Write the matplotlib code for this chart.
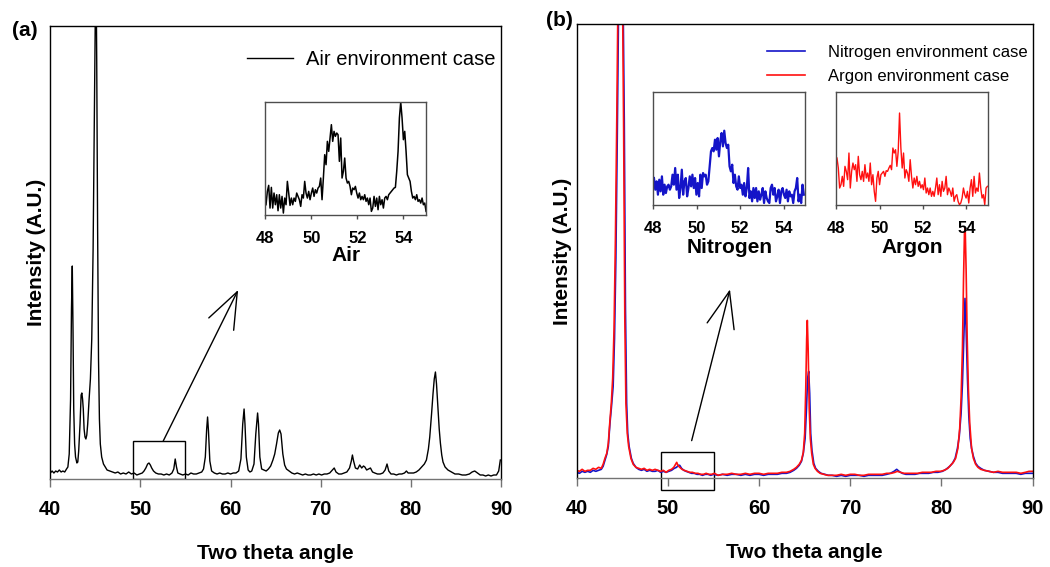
import numpy as np
import matplotlib
matplotlib.use("Agg")
import matplotlib.pyplot as plt
from matplotlib.patches import Rectangle

matplotlib.rc('font', family='Liberation Sans', size=14)

# ---- main pattern, air (2theta, intensity a.u.) ----
air_pts = [
    (40.0, 6), (40.2, 8), (40.4, 6), (40.6, 8), (40.8, 7), (41.0, 9), (41.2, 7), (41.4, 8),
    (41.6, 7), (41.8, 10), (41.95, 12), (42.1, 25), (42.25, 80), (42.35, 170), (42.44, 213),
    (42.52, 150), (42.6, 70), (42.7, 35), (42.8, 22), (42.95, 16), (43.05, 17), (43.15, 28),
    (43.3, 55), (43.42, 84), (43.5, 86), (43.58, 80), (43.66, 70), (43.75, 50), (43.85, 42),
    (43.95, 40), (44.05, 44), (44.15, 55), (44.3, 79), (44.45, 100), (44.6, 140), (44.75, 230),
    (44.9, 380), (45.0, 470), (45.07, 520), (45.15, 420), (45.25, 250), (45.35, 120),
    (45.45, 60), (45.55, 35), (45.7, 22), (45.9, 15), (46.1, 12), (46.3, 9), (46.6, 8),
    (46.9, 7), (47.2, 6), (47.5, 7), (47.8, 5), (48.1, 6), (48.4, 5), (48.7, 7), (49.0, 5),
    (49.3, 6), (49.6, 4), (49.9, 5), (50.2, 6), (50.4, 8), (50.6, 11), (50.8, 15), (50.95, 16),
    (51.1, 14), (51.25, 11), (51.45, 8), (51.7, 6), (52.0, 5), (52.3, 5), (52.6, 4), (52.9, 5),
    (53.2, 4), (53.5, 6), (53.7, 10), (53.86, 20), (54.0, 12), (54.15, 6), (54.4, 5), (54.7, 4),
    (55.0, 5), (55.3, 4), (55.6, 6), (55.9, 5), (56.2, 5), (56.5, 6), (56.8, 7), (57.0, 10),
    (57.2, 22), (57.35, 50), (57.45, 62), (57.55, 48), (57.7, 18), (57.9, 8), (58.2, 6),
    (58.5, 5), (58.8, 6), (59.1, 5), (59.4, 5), (59.7, 6), (60.0, 5), (60.3, 6), (60.6, 6),
    (60.9, 8), (61.15, 20), (61.35, 55), (61.5, 70), (61.6, 55), (61.75, 22), (61.95, 9),
    (62.15, 7), (62.35, 8), (62.6, 15), (62.8, 45), (63.0, 66), (63.1, 55), (63.25, 22),
    (63.45, 10), (63.7, 9), (63.95, 8), (64.2, 10), (64.45, 13), (64.7, 19), (64.9, 25),
    (65.1, 35), (65.3, 46), (65.45, 49), (65.6, 45), (65.8, 25), (66.0, 14), (66.2, 10),
    (66.5, 8), (66.8, 6), (67.1, 5), (67.4, 6), (67.7, 5), (68.0, 4), (68.3, 5), (68.6, 4),
    (68.9, 4), (69.2, 5), (69.5, 4), (69.8, 5), (70.1, 4), (70.4, 5), (70.7, 5), (71.0, 6),
    (71.3, 9), (71.5, 11), (71.7, 7), (72.0, 5), (72.3, 5), (72.6, 6), (72.9, 7), (73.2, 11),
    (73.4, 18), (73.52, 24), (73.65, 18), (73.85, 11), (74.1, 10), (74.33, 14), (74.55, 11),
    (74.75, 13), (74.9, 12), (75.1, 9), (75.3, 10), (75.52, 11), (75.75, 7), (76.0, 6),
    (76.3, 5), (76.6, 5), (76.9, 6), (77.15, 9), (77.36, 15), (77.55, 8), (77.8, 5), (78.1, 5),
    (78.4, 4), (78.7, 5), (79.0, 5), (79.3, 6), (79.51, 8), (79.7, 6), (80.0, 6), (80.3, 6),
    (80.6, 7), (80.9, 9), (81.2, 12), (81.5, 15), (81.73, 19), (81.95, 30), (82.1, 42),
    (82.3, 65), (82.46, 85), (82.6, 100), (82.73, 107), (82.85, 95), (83.02, 69), (83.15, 50),
    (83.28, 36), (83.43, 24), (83.57, 17), (83.8, 12), (84.12, 9), (84.5, 7), (84.9, 5),
    (85.3, 5), (85.7, 4), (86.1, 4), (86.5, 5), (86.8, 7), (87.09, 8), (87.4, 6), (87.7, 4),
    (88.0, 4), (88.3, 3), (88.6, 4), (88.9, 3), (89.2, 4), (89.5, 4), (89.75, 8), (89.93, 19),
]

# ---- main pattern, nitrogen ----
n2_pts = [
    (40.0, 6), (40.3, 5), (40.6, 7), (40.9, 6), (41.2, 7), (41.5, 6), (41.8, 8), (42.1, 7),
    (42.4, 8), (42.7, 9), (42.9, 12), (43.1, 18), (43.3, 24), (43.47, 32), (43.65, 55),
    (43.8, 70), (44.0, 92), (44.15, 140), (44.3, 220), (44.45, 340), (44.6, 470), (44.75, 900),
    (44.88, 1400), (45.0, 900), (45.12, 452), (45.22, 358), (45.35, 170), (45.48, 75),
    (45.6, 45), (45.75, 32), (46.0, 20), (46.2, 15), (46.5, 11), (46.8, 9), (47.1, 8),
    (47.4, 9), (47.7, 7), (48.0, 8), (48.3, 7), (48.6, 7), (48.9, 8), (49.2, 6), (49.5, 7),
    (49.8, 6), (50.1, 7), (50.4, 8), (50.7, 10), (50.95, 11), (51.15, 13), (51.3, 13),
    (51.5, 10), (51.75, 8), (52.0, 7), (52.3, 6), (52.6, 5), (52.9, 5), (53.2, 4), (53.5, 4),
    (53.8, 3), (54.1, 4), (54.4, 4), (54.7, 3), (55.0, 4), (55.5, 3), (56.0, 4), (56.5, 3),
    (57.0, 4), (57.5, 4), (58.0, 3), (58.5, 4), (59.0, 3), (59.5, 4), (60.0, 4), (60.5, 3),
    (61.0, 4), (61.5, 4), (62.0, 4), (62.5, 5), (63.0, 5), (63.4, 6), (63.8, 8), (64.1, 10),
    (64.4, 13), (64.65, 17), (64.85, 25), (65.05, 40), (65.2, 70), (65.32, 100), (65.44, 107),
    (65.55, 85), (65.66, 45), (65.8, 28), (66.0, 15), (66.2, 10), (66.5, 7), (66.8, 5),
    (67.2, 4), (67.6, 3), (68.0, 3), (68.5, 2), (69.0, 3), (69.5, 2), (70.0, 3), (70.5, 3),
    (71.0, 3), (71.5, 2), (72.0, 3), (72.5, 3), (73.0, 3), (73.5, 3), (74.0, 4), (74.4, 5),
    (74.8, 7), (75.09, 9), (75.35, 7), (75.7, 5), (76.1, 4), (76.6, 4), (77.1, 4), (77.6, 5),
    (78.1, 5), (78.6, 5), (79.1, 6), (79.6, 6), (80.1, 7), (80.5, 9), (80.9, 12), (81.2, 15),
    (81.5, 20), (81.75, 30), (81.95, 42), (82.15, 65), (82.3, 95), (82.45, 140), (82.58, 180),
    (82.7, 150), (82.85, 100), (83.0, 62), (83.15, 40), (83.3, 30), (83.5, 22), (83.75, 15),
    (84.0, 12), (84.3, 10), (84.7, 8), (85.2, 7), (85.7, 6), (86.2, 6), (86.7, 5), (87.2, 5),
    (87.7, 5), (88.2, 5), (88.7, 4), (89.2, 5), (89.6, 5), (90.0, 5),
]

# ---- main pattern, argon ----
ar_pts = [
    (40.0, 8), (40.3, 7), (40.6, 9), (40.9, 7), (41.2, 8), (41.5, 8), (41.8, 10), (42.1, 9),
    (42.4, 11), (42.7, 10), (42.9, 14), (43.1, 20), (43.3, 25), (43.47, 35), (43.65, 58),
    (43.8, 75), (43.95, 100), (44.1, 150), (44.25, 240), (44.4, 360), (44.55, 500),
    (44.7, 1000), (44.8, 1500), (44.92, 1000), (45.05, 460), (45.15, 350), (45.28, 160),
    (45.4, 75), (45.55, 45), (45.7, 32), (45.95, 20), (46.2, 14), (46.5, 11), (46.8, 10),
    (47.1, 9), (47.4, 10), (47.7, 8), (48.0, 9), (48.3, 8), (48.6, 9), (48.9, 8), (49.2, 7),
    (49.5, 8), (49.8, 6), (50.1, 8), (50.4, 9), (50.65, 11), (50.85, 14), (50.97, 16),
    (51.1, 13), (51.3, 11), (51.55, 9), (51.8, 8), (52.1, 7), (52.4, 6), (52.7, 6), (53.0, 5),
    (53.3, 5), (53.6, 4), (53.9, 4), (54.2, 5), (54.5, 4), (54.8, 4), (55.1, 5), (55.5, 3),
    (56.0, 4), (56.5, 4), (57.0, 5), (57.5, 4), (58.0, 4), (58.5, 5), (59.0, 4), (59.5, 5),
    (60.0, 5), (60.5, 4), (61.0, 5), (61.5, 5), (62.0, 5), (62.5, 6), (63.0, 6), (63.4, 7),
    (63.8, 9), (64.1, 11), (64.4, 14), (64.65, 18), (64.85, 26), (65.0, 45), (65.12, 90),
    (65.22, 140), (65.29, 158), (65.38, 130), (65.5, 70), (65.62, 40), (65.77, 25),
    (65.95, 14), (66.14, 10), (66.4, 7), (66.7, 5), (67.1, 4), (67.5, 3), (68.0, 3), (68.5, 3),
    (69.0, 4), (69.5, 3), (70.0, 4), (70.5, 4), (71.0, 3), (71.5, 3), (72.0, 4), (72.5, 4),
    (73.0, 4), (73.5, 4), (74.0, 5), (74.5, 5), (74.9, 6), (75.15, 7), (75.5, 6), (75.9, 5),
    (76.4, 5), (76.9, 5), (77.4, 5), (77.9, 6), (78.4, 6), (78.9, 6), (79.4, 7), (79.9, 7),
    (80.3, 8), (80.7, 10), (81.0, 13), (81.3, 16), (81.55, 20), (81.8, 30), (82.0, 50),
    (82.15, 80), (82.3, 130), (82.42, 200), (82.52, 245), (82.6, 250), (82.7, 210),
    (82.82, 140), (82.95, 90), (83.1, 55), (83.3, 30), (83.5, 20), (83.75, 14), (84.0, 11),
    (84.3, 9), (84.7, 8), (85.2, 7), (85.7, 6), (86.2, 7), (86.7, 6), (87.2, 6), (87.7, 6),
    (88.2, 6), (88.7, 5), (89.2, 6), (89.6, 7), (90.0, 7),
]

# ---- zoomed scans 48-55 deg (uniform step) ----
air_zoom = [
    30, 70, 88, 20, 82, 20, 65, 30, 60, 12,
    60, 20, 55, 5, 50, 30, 100, 65, 28, 50,
    30, 50, 40, 65, 55, 45, 25, 60, 50, 100,
    65, 50, 70, 45, 65, 80, 55, 75, 65, 80,
    85, 110, 45, 110, 180, 150, 220, 190, 230, 270,
    220, 250, 235, 245, 240, 160, 230, 110, 130, 170,
    110, 95, 100, 85, 60, 80, 75, 85, 65, 50,
    65, 45, 55, 45, 60, 40, 50, 30, 50, 10,
    20, 55, 25, 50, 15, 55, 30, 45, 20, 50,
    55, 45, 60, 65, 70, 75, 80, 82, 130, 190,
    290, 338, 290, 225, 250, 190, 120, 110, 100, 70,
    50, 55, 45, 60, 40, 45, 35, 50, 30, 35,
    10,
]
n2_zoom = [
    80, 45, 70, 30, 75, 40, 85, 30, 60, 35,
    55, 60, 45, 55, 90, 60, 110, 45, 90, 20,
    50, 105, 30, 70, 80, 25, 50, 85, 55, 90,
    50, 80, 30, 65, 25, 90, 50, 95, 85, 90,
    60, 70, 115, 160, 170, 160, 195, 165, 200, 145,
    190, 215, 175, 222, 185, 170, 180, 115, 100, 120,
    65, 90, 55, 45, 85, 50, 60, 30, 65, 25,
    50, 110, 20, 40, 10, 50, 20, 50, 10, 40,
    15, 30, 50, 5, 40, 20, 10, 5, 50, 60,
    30, 50, 10, 25, 45, 5, 40, 50, 30, 20,
    45, 10, 40, 25, 30, 5, 40, 50, 80, 10,
    30, 5, 60, 30,
]
ar_zoom = [
    140, 110, 50, 60, 85, 55, 115, 100, 75, 155,
    50, 100, 125, 105, 120, 70, 145, 90, 75, 100,
    70, 120, 80, 95, 70, 125, 60, 90, 40, 10,
    80, 100, 60, 90, 95, 100, 85, 102, 100, 110,
    118, 105, 170, 155, 165, 115, 160, 275, 170, 110,
    155, 80, 105, 95, 70, 135, 85, 50, 80, 60,
    85, 55, 70, 50, 60, 45, 80, 35, 50, 30,
    50, 25, 40, 25, 50, 80, 30, 60, 25, 70,
    40, 50, 85, 30, 50, 40, 25, 50, 10, 25,
    30, 10, 0, 5, 20, 50, 30, 20, 40, 5,
    50, 75, 25, 85, 35, 50, 40, 95, 50, 20,
    30, 0, 50, 55,
]

BLUE = '#1414c8'
RED = '#ff1010'


def to_xy(pts):
    arr = np.array(pts, dtype=float)
    return arr[:, 0], arr[:, 1]


def style_main(ax, top):
    ax.set_xlim(40, 90)
    ax.set_ylim(0, top)
    ax.set_xticks([40, 50, 60, 70, 80, 90])
    ax.set_yticks([])
    ax.tick_params(axis='x', direction='out', length=6, width=1, color='0.45', pad=9)
    for lab in ax.get_xticklabels():
        lab.set_fontweight('bold')
        lab.set_fontsize(14.5)
    for s in ax.spines.values():
        s.set_linewidth(1.0)
    ax.spines['bottom'].set_color('0.45')
    ax.set_xlabel("Two theta angle", fontsize=15, fontweight='bold', labelpad=18)
    ax.set_ylabel("Intensity (A.U.)", fontsize=15, fontweight='bold', labelpad=3)


def style_inset(ax, label, lpad):
    ax.set_xlim(48, 55)
    ax.set_ylim(0, 338)
    ax.set_xticks([48, 50, 52, 54])
    ax.set_yticks([])
    ax.tick_params(axis='x', direction='out', length=3, width=1, color='0.3', pad=9)
    for lab in ax.get_xticklabels():
        lab.set_fontweight('bold')
        lab.set_fontsize(12)
    for s in ax.spines.values():
        s.set_linewidth(1.0)
        s.set_color('0.3')
    ax.set_xlabel(label, fontsize=15, fontweight='bold', labelpad=lpad)


fig = plt.figure(figsize=(10.5, 5.67), dpi=100)

# ---------------- panel (a) ----------------
ax1 = fig.add_axes([0.0479, 0.1552, 0.4292, 0.7989])
x, y = to_xy(air_pts)
ax1.plot(x, y, color='k', lw=1.0, label='Air environment case')
style_main(ax1, 453)
ax1.add_patch(Rectangle((49.13, 0), 5.87, 38, fill=False, lw=1.0, ec='k'))
ax1.annotate('', xy=(60.84, 189), xytext=(52.53, 38),
             arrowprops=dict(arrowstyle='->,head_length=1.3,head_width=0.5', lw=1.0,
                             color='k', shrinkA=0, shrinkB=0, mutation_scale=20))
ax1.legend(loc='upper right', bbox_to_anchor=(0.988, 0.948), frameon=False,
           fontsize=14.5, handlelength=2.3, handletextpad=0.65,
           borderpad=0, borderaxespad=0)

ins1 = fig.add_axes([0.2527, 0.6213, 0.1533, 0.1988])
ins1.plot(np.linspace(48.03, 54.99, len(air_zoom)), air_zoom, color='k', lw=1.1)
style_inset(ins1, 'Air', 0)

# ---------------- panel (b) ----------------
ax2 = fig.add_axes([0.5492, 0.1564, 0.4343, 0.8004])
x, y = to_xy(n2_pts)
ax2.plot(x, y, color=BLUE, lw=1.2, label='Nitrogen environment case')
x, y = to_xy(ar_pts)
ax2.plot(x, y, color=RED, lw=1.2, label='Argon environment case')
style_main(ax2, 454)
ax2.add_patch(Rectangle((49.24, -11.7), 5.85, 38.4, fill=False, lw=1.0, ec='k',
                        clip_on=False))
ax2.annotate('', xy=(56.81, 189), xytext=(52.61, 37.7),
             arrowprops=dict(arrowstyle='->,head_length=1.3,head_width=0.5', lw=1.0,
                             color='k', shrinkA=0, shrinkB=0, mutation_scale=20))
ax2.legend(loc='upper right', bbox_to_anchor=(0.99, 0.955), frameon=False,
           fontsize=12, handlelength=2.3, handletextpad=1.4, labelspacing=0.55,
           borderpad=0, borderaxespad=0)

ins2 = fig.add_axes([0.6222, 0.6390, 0.1448, 0.1987])
ins2.plot(np.linspace(48.03, 54.93, len(n2_zoom)), n2_zoom, color=BLUE, lw=1.6)
style_inset(ins2, 'Nitrogen', 1)

ins3 = fig.add_axes([0.7965, 0.6390, 0.1445, 0.1987])
ins3.plot(np.linspace(48.03, 54.97, len(ar_zoom)), ar_zoom, color=RED, lw=1.0)
style_inset(ins3, 'Argon', 1)

fig.text(25 / 1050, 1 - 30 / 567, '(a)', fontsize=15, fontweight='bold',
         ha='center', va='center')
fig.text(559 / 1050, 1 - 21 / 567, '(b)', fontsize=15, fontweight='bold',
         ha='center', va='center')

fig.savefig('out.png', dpi=100)
